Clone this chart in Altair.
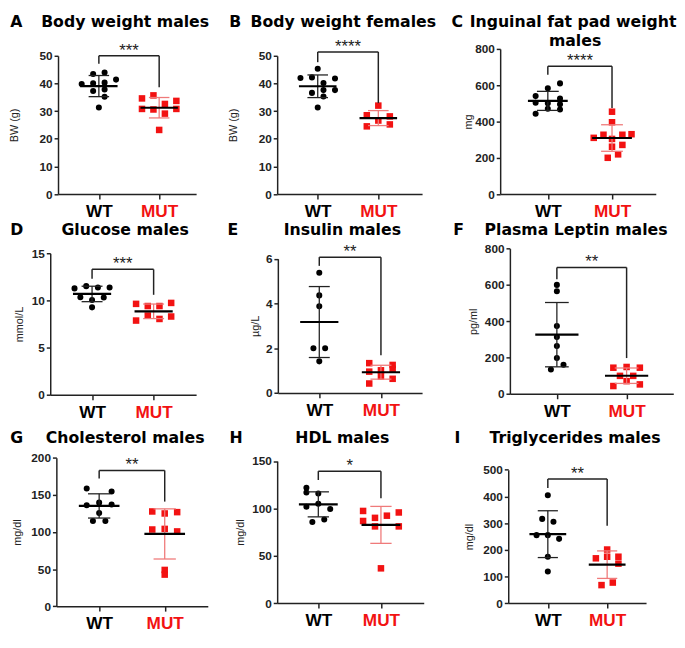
import altair as alt
import pandas as pd

# ---------------- data ----------------
groups = ["WT", "MUT"]

# A  Body weight males
bw_m_wt = [43.4, 44.0, 39.8, 40.1, 40.3, 41.4, 37.3, 37.8, 35.2, 31.3]
bw_m_wt_col = [-0.5, 0.5, -1.5, -0.5, 0.5, 1.5, -0.5, 0.5, 0.5, 0]
bw_m_mut = [34.6, 30.8, 35.7, 30.6, 32.6, 29.1, 33.7, 30.8, 23.2]
bw_m_mut_col = [-1.5, -1.5, -0.5, -0.5, 0.5, 0.5, 1.5, 1.5, 0]
bw_m_bracket = [50, 47.1, 38.6]

# B  Body weight females
bw_f_wt = [45.3, 42.0, 42.2, 41.8, 40.2, 36.6, 37.6, 37.6, 35.3, 31.3]
bw_f_wt_col = [0, -1.5, -0.5, 1.5, 0.5, -0.5, 0.5, 1.5, 0.5, 0]
bw_f_mut = [32.0, 28.5, 28.1, 26.6, 24.5, 25.2]
bw_f_mut_col = [0, -1, 1, 0, -1, 1]
bw_f_bracket = [51.4, 47.7, 32.9]

# C  Inguinal fat pad weight males
fat_wt = [610, 583, 540, 527, 503, 500, 495, 470, 466, 443]
fat_wt_col = [1, 0, -1, 1, -1, 0, 1, 0, 1, -1]
fat_mut = [454, 396, 310, 327, 327, 330, 304, 261, 271, 200, 219]
fat_mut_col = [0, 0, -1.5, -0.7, 0.85, 1.6, 0, 0, 0.85, -0.35, 0.5]
fat_bracket = [704, 657, 475]

# D  Glucose males
glu_wt = [11.28, 11.52, 11.38, 11.38, 10.35, 10.04, 10.31, 9.27]
glu_wt_col = [-1.5, -0.5, 0.5, 1.5, -1, 0, 1, 0]
glu_mut = [9.64, 9.41, 9.41, 9.74, 7.87, 8.40, 8.04, 8.30]
glu_mut_col = [-1.5, -0.5, 0.5, 1.5, -1.5, -0.5, 0.5, 1.5]
glu_bracket = [13.3, 12.3, 10.6]

# E  Insulin males
ins_wt = [5.37, 4.36, 3.87, 2.00, 2.00, 1.41]
ins_wt_col = [0, 0, 0, -0.5, 0.5, 0]
ins_mut = [1.33, 1.25, 1.07, 1.01, 0.95, 0.74, 0.63, 0.42]
ins_mut_col = [-1, 1, 1, 0, -1, 0, 1, -1]
ins_bracket = [6.07, 5.68, 1.68]

# F  Plasma Leptin males
lep_wt = [600, 565, 374, 313, 264, 197, 134, 160]
lep_wt_col = [0, 0, 0, 0, 0, 0, -0.45, 0.5]
lep_mut = [144, 148, 144, 99, 99, 43, 70, 52]
lep_mut_col = [-1, 0, 1, -0.5, 0.5, -1, 0, 1]
lep_bracket = [696, 631, 197]

# G  Cholesterol males
chol_wt = [158.7, 154.5, 139.6, 136.2, 137.0, 125.5, 114.9, 114.9]
chol_wt_col = [-1, 1, 0, -1, 1, 0, -0.5, 0.5]
chol_mut = [127.7, 125.0, 126.8, 103.4, 104.2, 100.8, 48.9, 42.6]
chol_mut_col = [-1, 0, 1, -1, 0, 1, 0, 0]
chol_bracket = [183, 172, 141]

# H  HDL males
hdl_wt = [121.7, 116.7, 115.7, 101.7, 105.0, 99.3, 85.7, 88.3]
hdl_wt_col = [-1, -1, 0, -1, 0, 1, -0.5, 0.5]
hdl_mut = [97.3, 95.7, 92.3, 90.0, 86.7, 81.0, 81.0, 36.7]
hdl_mut_col = [-1.5, 1.5, 0.5, -0.5, -1.5, -0.5, 1.5, 0]
hdl_bracket = [139.3, 130, 110.7]

# I  Triglycerides males
tg_wt = [405, 316, 305, 255, 255, 241, 174, 118.5]
tg_wt_col = [0, -0.5, 0.5, -1, 0, 1, 0, 0]
tg_mut = [201, 168, 174, 174, 148, 67.5, 77]
tg_mut_col = [0, -1, 1, 0, 1, -0.5, 0.5]
tg_bracket = [466, 432, 290]

# ---------------- styling / layout ----------------
RED = "#f21212"
PINK = "#ef7a7a"
DARK = "#222222"
SX = 0.99
SY = 0.964
JIT = 0.19
COL_LEFT = [43, 276, 505]
COL_W = [233, 229, 180]
ROW_TOP = [37.7, 191, 402.7]
ROW_BOT = [191, 402.7, 625]
SANS = "Liberation Sans"
TFONT = "DejaVu Sans"

panels = [
    [
        dict(letter="A", title=["Body weight males"], ytitle="BW (g)", ymax=50, step=10,
             wt=bw_m_wt, wc=bw_m_wt_col, mut=bw_m_mut, mc=bw_m_mut_col, br=bw_m_bracket, stars="***",
             ax=51, top=45, bot=191, xw=93, xm=155, end=193, lx=2, tcx=120, tb=14.5, ytx=-45),
        dict(letter="B", title=["Body weight females"], ytitle="BW (g)", ymax=50, step=10,
             wt=bw_f_wt, wc=bw_f_wt_col, mut=bw_f_mut, mc=bw_f_mut_col, br=bw_f_bracket, stars="****",
             ax=276, top=45, bot=191, xw=317.7, xm=380, end=425, lx=226.7, tcx=344, tb=14.5, ytx=-45),
        dict(letter="C", title=["Inguinal fat pad weight", "males"], ytitle="mg", ymax=800, step=200,
             wt=fat_wt, wc=fat_wt_col, mut=fat_mut, mc=fat_mut_col, br=fat_bracket, stars="****",
             ax=505, top=37.7, bot=191, xw=554, xm=620, end=665, lx=455, tcx=580, tb=15, ytx=-33),
    ],
    [
        dict(letter="D", title=["Glucose males"], ytitle="mmol/L", ymax=15, step=5,
             wt=glu_wt, wc=glu_wt_col, mut=glu_mut, mc=glu_mut_col, br=glu_bracket, stars="***",
             ax=43, top=253.3, bot=402.7, xw=86, xm=149.3, end=193, lx=2, tcx=120, tb=234, ytx=-31.5),
        dict(letter="E", title=["Insulin males"], ytitle="µg/L", ymax=6, step=2,
             wt=ins_wt, wc=ins_wt_col, mut=ins_mut, mc=ins_mut_col, br=ins_bracket, stars="**",
             ax=276.7, top=259, bot=400.7, xw=319.3, xm=382.7, end=425, lx=225, tcx=343, tb=234, ytx=-23),
        dict(letter="F", title=["Plasma Leptin males"], ytitle="pg/ml", ymax=800, step=200,
             wt=lep_wt, wc=lep_wt_col, mut=lep_mut, mc=lep_mut_col, br=lep_bracket, stars="**",
             ax=515, top=248.3, bot=401.7, xw=563.3, xm=635, end=683, lx=456.7, tcx=583, tb=234, ytx=-37.5),
    ],
    [
        dict(letter="G", title=["Cholesterol males"], ytitle="mg/dl", ymax=200, step=50,
             wt=chol_wt, wc=chol_wt_col, mut=chol_mut, mc=chol_mut_col, br=chol_bracket, stars="**",
             ax=49.3, top=468.3, bot=625, xw=93.3, xm=160.7, end=205, lx=2, tcx=120, tb=452.3, ytx=-40),
        dict(letter="H", title=["HDL males"], ytitle="mg/dl", ymax=150, step=50,
             wt=hdl_wt, wc=hdl_wt_col, mut=hdl_mut, mc=hdl_mut_col, br=hdl_bracket, stars="*",
             ax=276, top=471.7, bot=621.7, xw=318.3, xm=382.7, end=426.7, lx=227, tcx=343, tb=452.3, ytx=-38),
        dict(letter="I", title=["Triglycerides males"], ytitle="mg/dl", ymax=500, step=100,
             wt=tg_wt, wc=tg_wt_col, mut=tg_mut, mc=tg_mut_col, br=tg_bracket, stars="**",
             ax=513.3, top=481, bot=621.7, xw=554, xm=615, end=655, lx=458, tcx=582, tb=452.3, ytx=-40),
    ],
]


def make_panel(p, r, c):
    rtop, rbot = ROW_TOP[r], ROW_BOT[r]
    cl = COL_LEFT[c]
    H = (rbot - rtop) * SY
    W = COL_W[c] * SX
    a = (p["ax"] - cl) * SX                 # y-axis position inside the cell
    k = p["xm"] - p["xw"]
    d0 = 1 - (p["xw"] - p["ax"]) / k
    d1 = 1 + (p["end"] - p["xw"]) / k
    xscale = alt.Scale(domain=[d0, d1], range=[a, a + (p["end"] - p["ax"]) * SX], nice=False, zero=False)
    yscale = alt.Scale(domain=[0, p["ymax"]], range=[(p["bot"] - rtop) * SY, (p["top"] - rtop) * SY],
                       nice=False, zero=False)
    xaxis = alt.Axis(values=[1, 2], labelExpr="datum.value == 1 ? 'WT' : 'MUT'", title=None,
                     offset=-(rbot - p["bot"]) * SY,
                     labelFont=SANS, labelFontSize=17.5, labelFontWeight="bold",
                     labelColor={"condition": {"test": "datum.value == 2", "value": RED}, "value": "black"},
                     tickSize=5, tickWidth=1.5, tickColor=DARK, domainColor=DARK, domainWidth=1.5,
                     labelPadding=4, grid=False, labelFlush=False, labelOverlap=False, labelBound=False)
    yaxis = alt.Axis(values=list(range(0, p["ymax"] + 1, p["step"])), title=p["ytitle"], offset=-a,
                     titleX=p["ytx"] * SX, titleAngle=270, titleAlign="center", titleBaseline="middle",
                     titleFont=SANS, titleFontSize=11, titleFontWeight="normal", titleColor=DARK,
                     labelFont=SANS, labelFontSize=12, labelFontWeight="bold", labelColor=DARK,
                     tickSize=4, tickWidth=1.5, tickColor=DARK, domainColor=DARK, domainWidth=1.5,
                     labelPadding=2, grid=False, labelFlush=False, labelOverlap=False)

    def X(f):
        return alt.X(f, type="quantitative", scale=xscale, axis=xaxis)

    def Y(f):
        return alt.Y(f, type="quantitative", scale=yscale, axis=yaxis)

    pts = pd.DataFrame({
        "group": ["WT"] * len(p["wt"]) + ["MUT"] * len(p["mut"]),
        "pos": [1] * len(p["wt"]) + [2] * len(p["mut"]),
        "col": list(p["wc"]) + list(p["mc"]),
        "value": list(p["wt"]) + list(p["mut"]),
    })
    base = alt.Chart(pts)
    points = base.transform_calculate(
        xp=f"datum.pos + datum.col * {JIT}",
        c=f"datum.group == 'WT' ? 'black' : '{RED}'",
        shp="datum.group == 'WT' ? 'circle' : 'square'",
        sz="datum.group == 'WT' ? 38 : 44",
    ).mark_point(filled=True, opacity=1, strokeWidth=0).encode(
        x=X("xp"), y=Y("value"),
        color=alt.Color("c:N", scale=None),
        shape=alt.Shape("shp:N", scale=None),
        size=alt.Size("sz:Q", scale=None),
    )
    stats = base.transform_aggregate(
        m="mean(value)", sd="stdev(value)", groupby=["group", "pos"]
    ).transform_calculate(
        lo="datum.m - datum.sd", hi="datum.m + datum.sd",
        ml="datum.pos - 0.31", mr="datum.pos + 0.31",
        cl="datum.pos - 0.17", cr="datum.pos + 0.17",
        ec=f"datum.group == 'WT' ? '{DARK}' : '{PINK}'",
    )
    err = stats.mark_rule(strokeWidth=1.3).encode(
        x=X("pos"), y=Y("lo"), y2="hi:Q", color=alt.Color("ec:N", scale=None))
    cap_hi = stats.mark_rule(strokeWidth=1.3).encode(
        x=X("cl"), x2="cr:Q", y=Y("hi"), color=alt.Color("ec:N", scale=None))
    cap_lo = stats.mark_rule(strokeWidth=1.3).encode(
        x=X("cl"), x2="cr:Q", y=Y("lo"), color=alt.Color("ec:N", scale=None))
    mean_rule = stats.mark_rule(strokeWidth=2.2, color="black").encode(
        x=X("ml"), x2="mr:Q", y=Y("m"))

    top, lend, rend = p["br"]
    br = pd.DataFrame({"bx": [1, 1, 2], "bx2": [2, 1, 2], "by": [top, top, top], "by2": [top, lend, rend]})
    bracket = alt.Chart(br).mark_rule(strokeWidth=1.5, color=DARK).encode(
        x=X("bx"), x2="bx2:Q", y=Y("by"), y2="by2:Q")
    stars = alt.Chart(pd.DataFrame({"sx": [1.5], "sy": [top], "t": [p["stars"]]})).mark_text(
        font=SANS, fontSize=17, color=DARK, baseline="alphabetic", align="center", dy=0
    ).encode(x=X("sx"), y=Y("sy"), text="t:N")

    letter = alt.Chart(pd.DataFrame({"t": [p["letter"]]})).mark_text(
        font=TFONT, fontWeight="bold", fontSize=16, align="left", baseline="alphabetic", color="black"
    ).encode(text="t:N", x=alt.value((p["lx"] - cl) * SX), y=alt.value((p["tb"] - rtop) * SY))
    layers = [points, err, cap_hi, cap_lo, mean_rule, bracket, stars, letter]
    for i, line in enumerate(p["title"]):
        cx = p["tcx"] if i == 0 else p["tcx"] + 2
        layers.append(alt.Chart(pd.DataFrame({"t": [line]})).mark_text(
            font=TFONT, fontWeight="bold", fontSize=16, align="center", baseline="alphabetic", color="black"
        ).encode(text="t:N", x=alt.value((cx - cl) * SX), y=alt.value((p["tb"] + 20 * i - rtop) * SY)))
    return alt.layer(*layers).properties(width=W, height=H)


cells = []
for r, row in enumerate(panels):
    for c, p in enumerate(row):
        cells.append(make_panel(p, r, c))

chart = alt.concat(*cells, columns=3, spacing=0, bounds="flush", align="each",
                   padding=0).configure_view(stroke=None)

chart.save("out.html", embed_options={"renderer": "svg", "actions": False})
